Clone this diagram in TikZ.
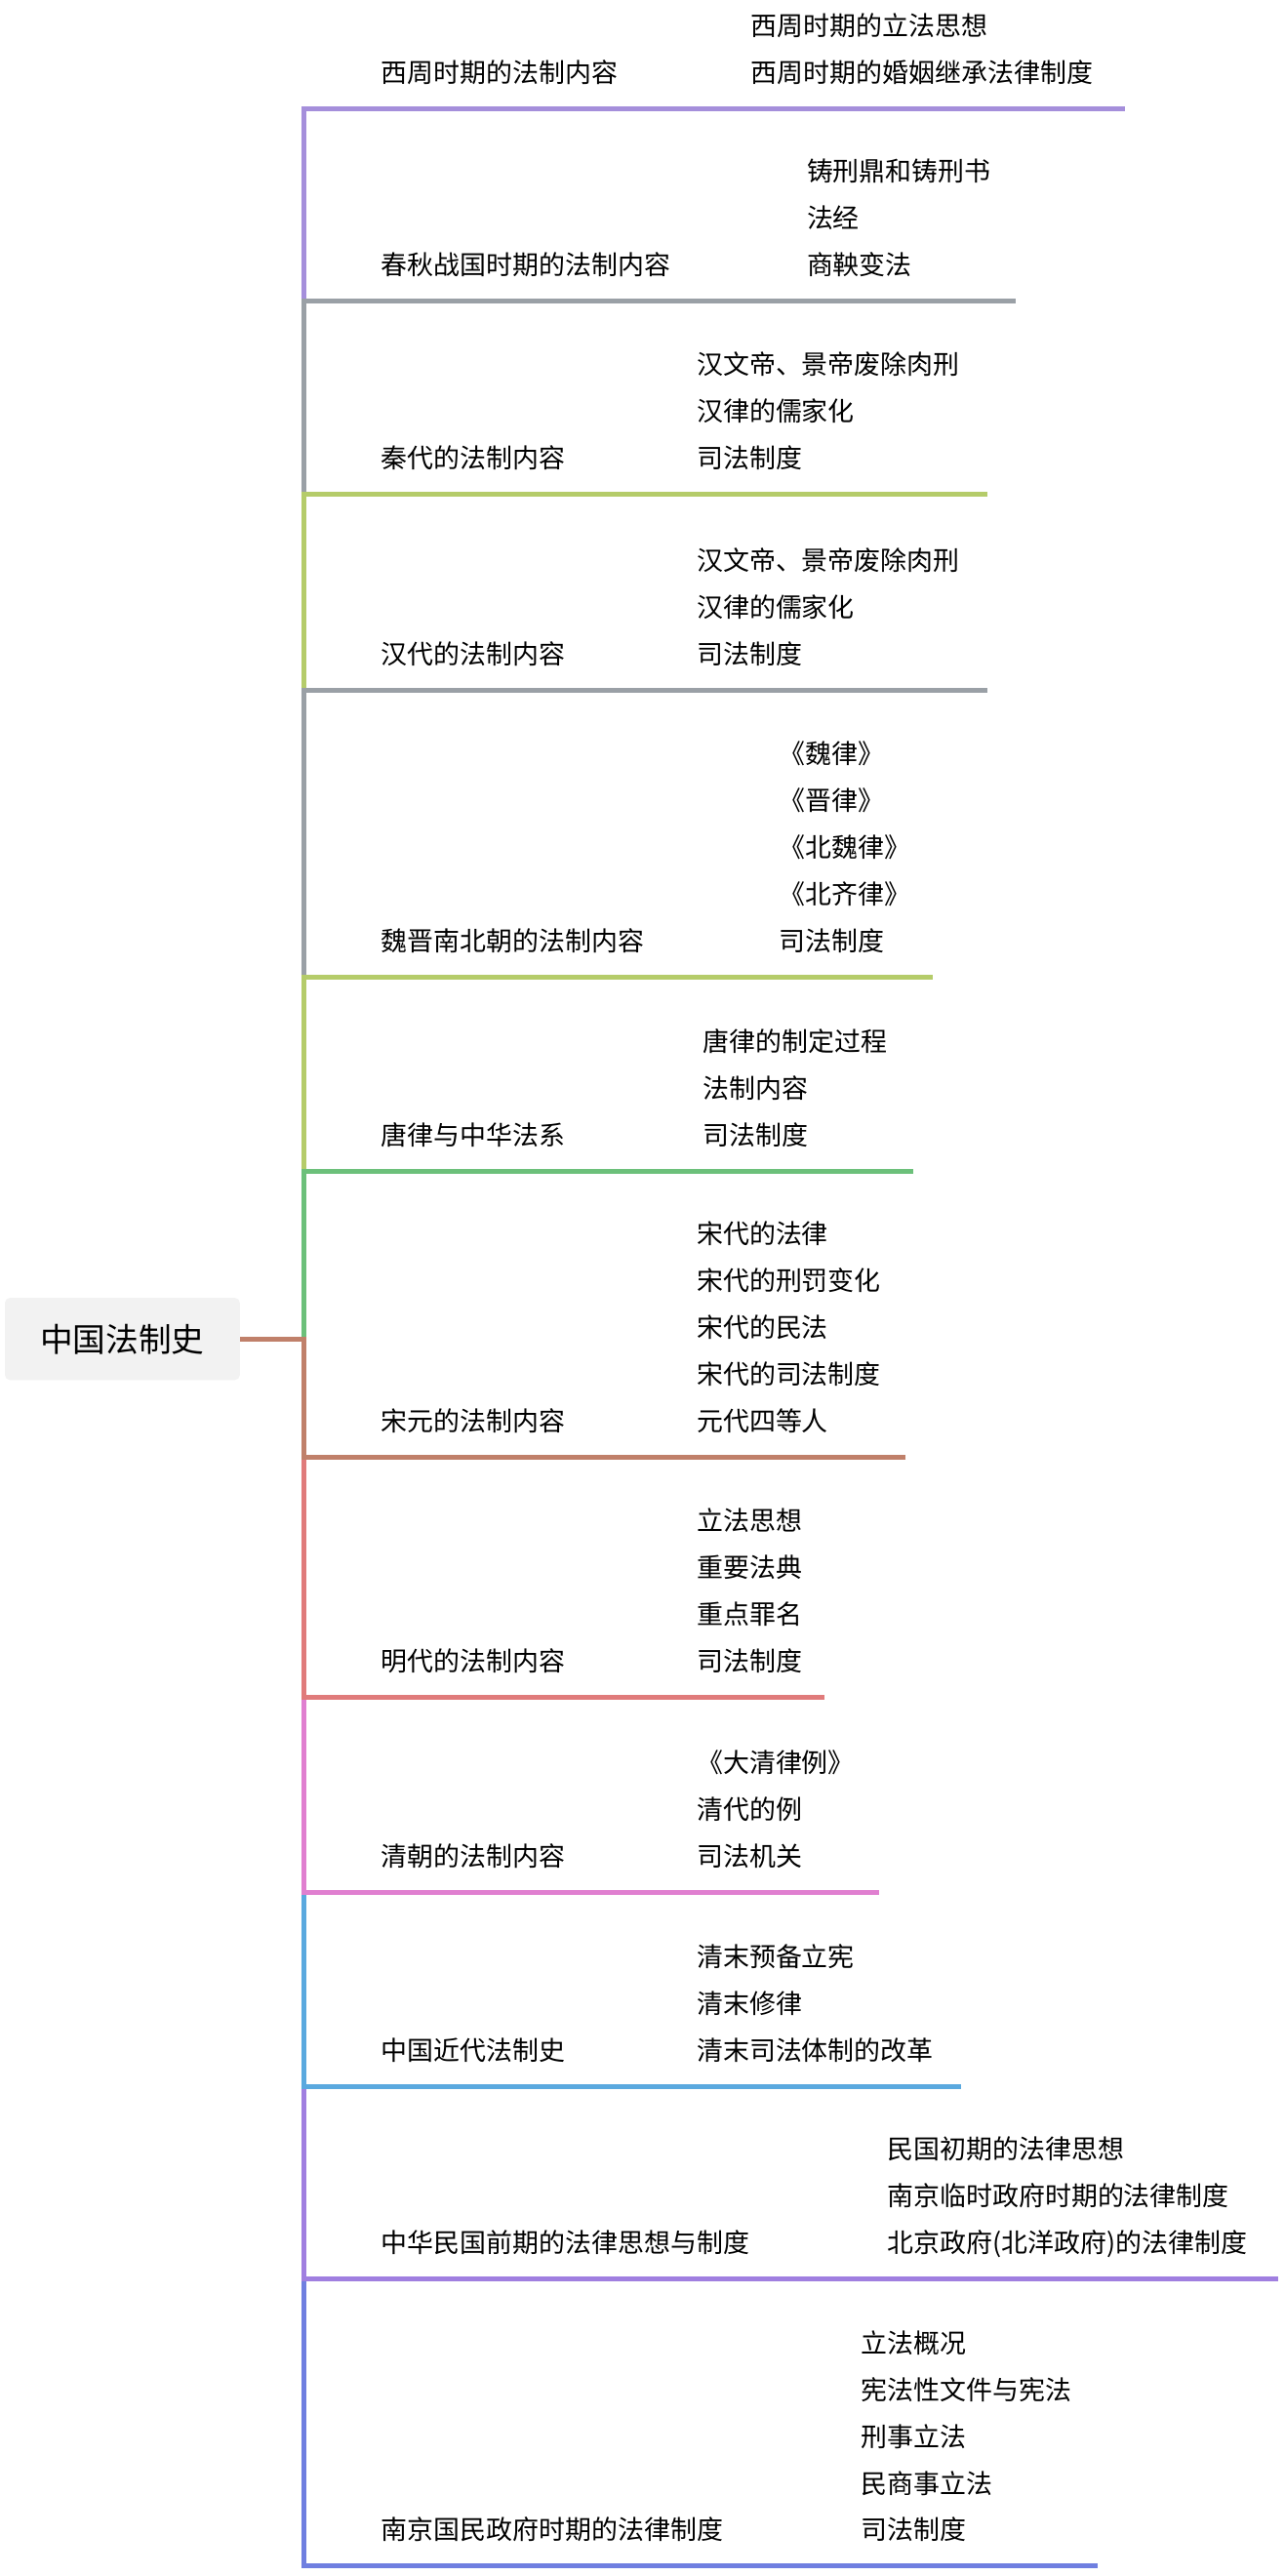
\documentclass[tikz,border=0pt]{standalone}
\usepackage{fontspec}
\setmainfont{Noto Sans CJK SC}
\usetikzlibrary{positioning}
\definecolor{cxizhou}{HTML}{A58FDB}
\definecolor{cgray}{HTML}{9AA0A6}
\definecolor{colive}{HTML}{B5CC6A}
\definecolor{cgreen}{HTML}{6CC07A}
\definecolor{cbrown}{HTML}{C0806A}
\definecolor{cred}{HTML}{E07B7B}
\definecolor{cpink}{HTML}{E07FD0}
\definecolor{cblue}{HTML}{5AA9DF}
\definecolor{cpurple}{HTML}{A07FE0}
\definecolor{cindigo}{HTML}{6F7FE0}

% #1 name, #2 line y, #3 line end x, #4 colour, #5 label, #6 child x, #7 number of children, #8 children
\newcommand\branch[8]{%
    \coordinate (#1end) at (#3,#2);
    \node [topic, anchor=base west] (#1) at (232,#2-16) {#5};
    \draw [link, #4] (root.east) -- (185,815) |- (#1end);
    \foreach \t [count=\i] in {#8}
        \node [leaf, anchor=base west] (#1-\i) at (#6,#2-16-28.5*#7+28.5*\i) {\t};
}

\begin{document}
\begin{tikzpicture}[x=1pt, y=-1pt]

    \tikzstyle{rootbox} = [
        rectangle,
        rounded corners=3pt,
        fill=black!5,
        minimum width=143pt,
        minimum height=50pt,
        font=\fontsize{20}{24}\selectfont,
    ]
    \tikzstyle{topic} = [
        inner sep=0pt,
        font=\fontsize{16}{19}\selectfont,
    ]
    \tikzstyle{leaf} = [
        inner sep=0pt,
        font=\fontsize{16}{19}\selectfont,
    ]
    \tikzstyle{link} = [
        draw,
        line width=3pt,
    ]

    \useasboundingbox (0,0) rectangle (782,1568);

    \node [rootbox] (root) at (74.5,815) {中国法制史};

    \branch{xizhou}{66}{685}{cxizhou}{西周时期的法制内容}{457}{2}{西周时期的立法思想,西周时期的婚姻继承法律制度}
    \branch{chunqiu}{183}{618}{cgray}{春秋战国时期的法制内容}{491}{3}{铸刑鼎和铸刑书,法经,商鞅变法}
    \branch{qin}{301}{601}{colive}{秦代的法制内容}{424}{3}{汉文帝、景帝废除肉刑,汉律的儒家化,司法制度}
    \branch{han}{420}{601}{cgray}{汉代的法制内容}{424}{3}{汉文帝、景帝废除肉刑,汉律的儒家化,司法制度}
    \branch{weijin}{595}{568}{colive}{魏晋南北朝的法制内容}{474}{5}{《魏律》,《晋律》,《北魏律》,《北齐律》,司法制度}
    \branch{tang}{713}{556}{cgreen}{唐律与中华法系}{428}{3}{唐律的制定过程,法制内容,司法制度}
    \branch{nanjing}{1562}{668}{cindigo}{南京国民政府时期的法律制度}{524}{5}{立法概况,宪法性文件与宪法,刑事立法,民商事立法,司法制度}
    \branch{minguo}{1387}{778}{cpurple}{中华民国前期的法律思想与制度}{540}{3}{民国初期的法律思想,南京临时政府时期的法律制度,{北京政府(北洋政府)的法律制度}}
    \branch{jindai}{1270}{585}{cblue}{中国近代法制史}{424}{3}{清末预备立宪,清末修律,清末司法体制的改革}
    \branch{qing}{1152}{535}{cpink}{清朝的法制内容}{424}{3}{《大清律例》,清代的例,司法机关}
    \branch{ming}{1033}{502}{cred}{明代的法制内容}{424}{4}{立法思想,重要法典,重点罪名,司法制度}
    \branch{songyuan}{887}{551}{cbrown}{宋元的法制内容}{424}{5}{宋代的法律,宋代的刑罚变化,宋代的民法,宋代的司法制度,元代四等人}

\end{tikzpicture}
\end{document}
